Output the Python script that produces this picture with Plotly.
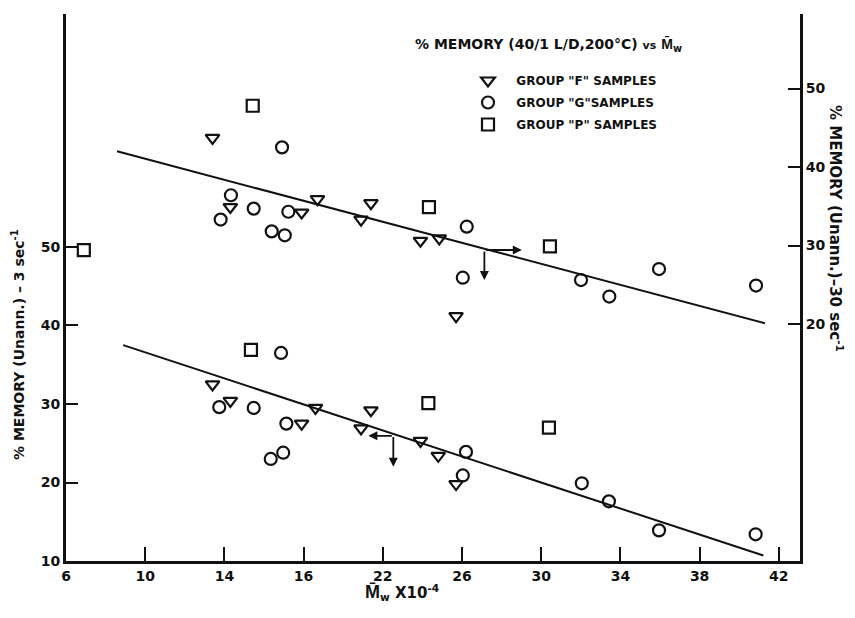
import plotly.graph_objects as go

# ---------------- data ----------------
x_tick_vals = [6, 10, 14, 18, 22, 26, 30, 34, 38, 42]
x_tick_text = ["6", "10", "14", "16", "22", "26", "30", "34", "38", "42"]
y_left_ticks = [10, 20, 30, 40, 50]
y_right_ticks = [20, 30, 40, 50]

# lower set (left axis, 3 sec^-1)
f_x_low = [13.4, 14.3, 17.9, 18.6, 20.9, 21.4, 23.9, 24.8, 25.7]
f_y_low = [32.5, 30.4, 27.5, 29.5, 26.9, 29.2, 25.3, 23.4, 19.8]
g_x_low = [16.86, 13.74, 15.48, 17.13, 16.34, 16.97, 26.2, 26.04, 32.05, 33.42, 35.95, 40.83]
g_y_low = [36.5, 29.6, 29.5, 27.5, 23.0, 23.8, 23.9, 20.9, 19.9, 17.6, 13.9, 13.4]
p_x_low = [15.34, 24.3, 30.39]
p_y_low = [36.9, 30.1, 27.0]

# upper set (right axis, 30 sec^-1)
f_x_up = [13.4, 14.3, 18.7, 17.9, 21.4, 20.9, 23.9, 24.85, 25.7]
f_y_up = [43.7, 34.9, 35.9, 34.2, 35.4, 33.3, 30.6, 30.9, 21.0]
g_x_up = [16.91, 14.33, 13.81, 15.48, 17.23, 16.39, 17.05, 26.24, 26.04, 32.01, 33.44, 35.95, 40.85]
g_y_up = [42.5, 36.4, 33.3, 34.7, 34.3, 31.8, 31.3, 32.4, 25.9, 25.6, 23.5, 27.0, 24.9]
p_x_up = [6.9, 15.43, 24.33, 30.44]
p_y_up = [29.4, 47.8, 34.9, 29.9]

# fitted lines
fit_low_x = [8.89, 41.22]
fit_low_y = [37.5, 10.7]
fit_up_x = [8.58, 41.3]
fit_up_y = [42.0, 20.1]

# axis indicator arrows: (tail x, tail y, head x, head y)
arrows_low = [(22.53, 26.0, 22.53, 22.0), (22.53, 25.95, 21.27, 25.95)]
arrows_up = [(27.13, 29.43, 27.13, 25.6), (27.13, 29.43, 29.02, 29.43)]

# ---------------- figure ----------------
BLACK = "#111111"
FONT = "DejaVu Sans"
mk = dict(size=12, color=BLACK, line=dict(color=BLACK, width=2.2))

fig = go.Figure()

names = ['\u00a0\u00a0GROUP "F" SAMPLES', '\u00a0\u00a0GROUP "G"SAMPLES', '\u00a0\u00a0GROUP "P" SAMPLES']
symbols = ["triangle-down-open", "circle-open", "square-open"]
low_sets = [(f_x_low, f_y_low), (g_x_low, g_y_low), (p_x_low, p_y_low)]
up_sets = [(f_x_up, f_y_up), (g_x_up, g_y_up), (p_x_up, p_y_up)]

for nm, sym, (xl, yl), (xu, yu) in zip(names, symbols, low_sets, up_sets):
    fig.add_trace(go.Scatter(x=xl, y=yl, mode="markers", name=nm, legendgroup=nm,
                             marker=dict(symbol=sym, **mk)))
    fig.add_trace(go.Scatter(x=xu, y=yu, mode="markers", name=nm, legendgroup=nm,
                             showlegend=False, yaxis="y2",
                             marker=dict(symbol=sym, **mk)))

fig.add_trace(go.Scatter(x=fit_low_x, y=fit_low_y, mode="lines", showlegend=False,
                         line=dict(color=BLACK, width=2)))
fig.add_trace(go.Scatter(x=fit_up_x, y=fit_up_y, mode="lines", showlegend=False,
                         yaxis="y2", line=dict(color=BLACK, width=2)))

annotations = []
for (tx, ty, hx, hy) in arrows_low:
    annotations.append(dict(x=hx, y=hy, ax=tx, ay=ty, xref="x", yref="y",
                            axref="x", ayref="y", showarrow=True, arrowhead=2,
                            arrowsize=1, arrowwidth=1.8, arrowcolor=BLACK, text=""))
for (tx, ty, hx, hy) in arrows_up:
    annotations.append(dict(x=hx, y=hy, ax=tx, ay=ty, xref="x", yref="y2",
                            axref="x", ayref="y2", showarrow=True, arrowhead=2,
                            arrowsize=1, arrowwidth=1.8, arrowcolor=BLACK, text=""))

MBAR = "<span style='font-family:Liberation Sans'>M\u0304</span>"
tfont = dict(family=FONT, size=14, color=BLACK, weight="bold")
annotations += [
    dict(text="% MEMORY (40/1 L/D,200°C) <span style='font-size:11px'>vs</span> " + MBAR + "<sub>w</sub>",
         xref="paper", yref="paper", x=(413 - 66) / 734, y=(561 - 45) / 547,
         xanchor="left", yanchor="middle", showarrow=False, font=tfont),
    dict(text="<span style='font-size:18px'>" + MBAR + "</span><sub>w</sub> X10<sup>-4</sup>",
         xref="paper", yref="paper",
         x=(402 - 66) / 734, y=-(592 - 561) / 547, xanchor="center", yanchor="middle",
         showarrow=False, font=dict(family=FONT, size=15, color=BLACK, weight="bold")),
    dict(text="% MEMORY (Unann.) \u2013 3 sec<sup>-1</sup>", xref="paper", yref="paper",
         x=-(66 - 18) / 734, y=(561 - 345) / 547, xanchor="center", yanchor="middle",
         textangle=-90, showarrow=False, font=tfont),
    dict(text="% MEMORY (Unann.)\u201330 sec<sup>-1</sup>", xref="paper", yref="paper",
         x=1 + (836 - 800) / 734, y=(561 - 228) / 547, xanchor="center", yanchor="middle",
         textangle=90, showarrow=False, font=dict(family=FONT, size=15, color=BLACK, weight="bold")),
]

axis_common = dict(showline=True, linecolor=BLACK, linewidth=2.8, ticks="inside",
                   tickcolor=BLACK, tickwidth=1.6, showgrid=False, zeroline=False,
                   tickfont=dict(family=FONT, size=14, color=BLACK, weight="bold"))

fig.update_layout(
    width=855, height=618,
    margin=dict(l=66, r=55, t=14, b=57),
    paper_bgcolor="white", plot_bgcolor="white",
    xaxis=dict(range=[6, 43.07], tickvals=x_tick_vals, ticktext=x_tick_text,
               ticklen=14, **axis_common),
    yaxis=dict(range=[10, 79.68], tickvals=y_left_ticks, ticklen=12, **axis_common),
    yaxis2=dict(range=[-10.19, 59.49], tickvals=y_right_ticks, ticklen=12,
                overlaying="y", side="right", **axis_common),
    legend=dict(x=(468 - 66) / 734, y=(561 - 66) / 547, xanchor="left", yanchor="top",
                bgcolor="rgba(0,0,0,0)", font=dict(family=FONT, size=12, color=BLACK, weight="bold"),
                itemwidth=30, tracegroupgap=3),
    annotations=annotations,
    showlegend=True,
)

fig.write_html("out.html")
